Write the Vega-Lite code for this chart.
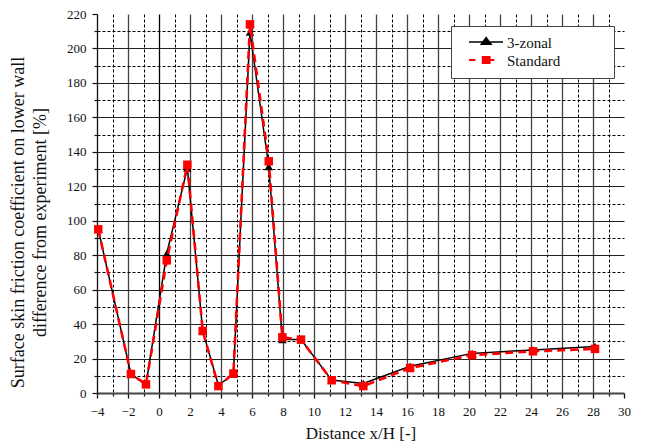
{
  "$schema": "https://vega.github.io/schema/vega-lite/v6.json",
  "width": 527,
  "height": 379,
  "autosize": {"type": "none"},
  "padding": {"left": 97, "top": 14, "right": 27, "bottom": 50},
  "background": "white",
  "config": {
    "view": {"stroke": null},
    "font": "Liberation Serif",
    "axis": {
      "labelFont": "Liberation Serif",
      "labelFontSize": 13,
      "labelColor": "#111",
      "titleFont": "Liberation Serif",
      "titleFontWeight": "normal",
      "titleColor": "#111",
      "tickColor": "#111",
      "labelFlush": false,
      "labelOverlap": false
    }
  },
  "data": {
    "values": [
      {"x": -3.92, "y": 95, "series": "3-zonal"},
      {"x": -1.81, "y": 11, "series": "3-zonal"},
      {"x": -0.84, "y": 5, "series": "3-zonal"},
      {"x": 0.5, "y": 81, "series": "3-zonal"},
      {"x": 1.83, "y": 130.5, "series": "3-zonal"},
      {"x": 2.82, "y": 36, "series": "3-zonal"},
      {"x": 3.83, "y": 4.5, "series": "3-zonal"},
      {"x": 4.8, "y": 11, "series": "3-zonal"},
      {"x": 5.87, "y": 209.5, "series": "3-zonal"},
      {"x": 7.08, "y": 131.5, "series": "3-zonal"},
      {"x": 7.96, "y": 31, "series": "3-zonal"},
      {"x": 9.16, "y": 31, "series": "3-zonal"},
      {"x": 11.14, "y": 7.5, "series": "3-zonal"},
      {"x": 13.18, "y": 5.5, "series": "3-zonal"},
      {"x": 16.2, "y": 15.5, "series": "3-zonal"},
      {"x": 20.2, "y": 23, "series": "3-zonal"},
      {"x": 24.13, "y": 25, "series": "3-zonal"},
      {"x": 28.13, "y": 27, "series": "3-zonal"},
      {"x": -3.92, "y": 95, "series": "Standard"},
      {"x": -1.81, "y": 11, "series": "Standard"},
      {"x": -0.84, "y": 5, "series": "Standard"},
      {"x": 0.5, "y": 77, "series": "Standard"},
      {"x": 1.83, "y": 132.5, "series": "Standard"},
      {"x": 2.82, "y": 36, "series": "Standard"},
      {"x": 3.83, "y": 4, "series": "Standard"},
      {"x": 4.8, "y": 11.3, "series": "Standard"},
      {"x": 5.87, "y": 214, "series": "Standard"},
      {"x": 7.08, "y": 134.5, "series": "Standard"},
      {"x": 7.96, "y": 32.3, "series": "Standard"},
      {"x": 9.16, "y": 31, "series": "Standard"},
      {"x": 11.14, "y": 7.4, "series": "Standard"},
      {"x": 13.18, "y": 4, "series": "Standard"},
      {"x": 16.2, "y": 14.5, "series": "Standard"},
      {"x": 20.2, "y": 22, "series": "Standard"},
      {"x": 24.13, "y": 24.2, "series": "Standard"},
      {"x": 28.13, "y": 25.6, "series": "Standard"}
    ]
  },
  "encoding": {
    "x": {
      "field": "x",
      "type": "quantitative",
      "scale": {"domain": [-4, 30], "nice": false, "zero": false},
      "axis": {
        "title": "Distance x/H [-]",
        "titleFontSize": 17,
        "titleY": 45,
        "titleBaseline": "alphabetic",
        "values": [-4, -3, -2, -1, 0, 1, 2, 3, 4, 5, 6, 7, 8, 9, 10, 11, 12, 13, 14, 15, 16, 17, 18, 19, 20, 21, 22, 23, 24, 25, 26, 27, 28, 29, 30],
        "labelExpr": "datum.value % 2 === 0 ? datum.label : ''",
        "labelFont": "Liberation Serif",
        "labelFontSize": 13,
        "labelBaseline": "alphabetic",
        "labelPadding": 17,
        "tickSize": {"condition": {"test": "datum.value % 2 !== 0", "value": 3}, "value": 5},
        "tickWidth": 1.3,
        "domainColor": "#444",
        "domainWidth": 2,
        "grid": true,
        "gridColor": {"condition": {"test": "datum.value % 2 !== 0 || datum.value === 0", "value": "#000"}, "value": "#444"},
        "gridWidth": {"condition": {"test": "datum.value % 2 !== 0", "value": 1}, "value": 1.3},
        "gridDash": {"condition": {"test": "datum.value % 2 !== 0", "value": [3, 2]}, "value": []},
        "gridOpacity": {"condition": {"test": "datum.value >= 30 || datum.value <= -4", "value": 0}, "value": 1}
      }
    },
    "y": {
      "field": "y",
      "type": "quantitative",
      "scale": {"domain": [0, 220], "nice": false, "zero": false},
      "axis": {
        "title": ["Surface skin friction coefficient on lower wall", "\u00a0\u00a0\u00a0\u00a0\u00a0\u00a0\u00a0\u00a0difference from experiment [%]"],
        "titleFontSize": 18,
        "titleLineHeight": 22,
        "titleAngle": -90,
        "titleX": -79,
        "titleY": 208,
        "titleAlign": "center",
        "titleBaseline": "middle",
        "values": [0, 10, 20, 30, 40, 50, 60, 70, 80, 90, 100, 110, 120, 130, 140, 150, 160, 170, 180, 190, 200, 210, 220],
        "labelExpr": "datum.value % 20 === 0 ? datum.label : ''",
        "labelFont": "Liberation Serif",
        "labelFontSize": 13,
        "labelBaseline": "middle",
        "labelPadding": 6,
        "tickSize": {"condition": {"test": "datum.value % 20 !== 0", "value": 3}, "value": 5},
        "tickWidth": 1.2,
        "domainColor": "#111",
        "domainWidth": 1.3,
        "grid": true,
        "gridColor": {"condition": {"test": "datum.value % 20 !== 0", "value": "#000"}, "value": "#222"},
        "gridWidth": {"condition": {"test": "datum.value % 20 !== 0", "value": 1}, "value": 1.2},
        "gridDash": {"condition": {"test": "datum.value % 20 !== 0", "value": [3, 2]}, "value": []},
        "gridOpacity": {"condition": {"test": "datum.value >= 220 || datum.value <= 0", "value": 0}, "value": 1}
      }
    }
  },
  "layer": [
    {
      "transform": [{"filter": "datum.series === '3-zonal'"}],
      "mark": {"type": "line", "color": "#000000", "strokeWidth": 1.5},
      "encoding": {"order": {"field": "x", "type": "quantitative"}}
    },
    {
      "transform": [{"filter": "datum.series === '3-zonal'"}],
      "mark": {"type": "point", "shape": "triangle-up", "size": 72, "filled": true, "opacity": 1},
      "encoding": {
        "fill": {
          "field": "series",
          "type": "nominal",
          "scale": {"domain": ["3-zonal"], "range": ["#000000"]},
          "legend": {
            "title": null,
            "orient": "none",
            "legendX": 354,
            "legendY": 12,
            "padding": 7,
            "fillColor": "white",
            "strokeColor": "#444",
            "symbolType": "M-0.41,-0.53H1.59M0.6,-0.79L0.89,-0.39L0.31,-0.39ZM7.5,0.95",
            "symbolSize": 1156,
            "symbolStrokeColor": "#000000",
            "symbolStrokeWidth": 1.5,
            "symbolOpacity": 1,
            "labelFont": "Liberation Serif",
            "labelFontSize": 15,
            "labelColor": "#111",
            "labelBaseline": "bottom",
            "labelOffset": 13
          }
        }
      }
    },
    {
      "transform": [{"filter": "datum.series === 'Standard'"}],
      "mark": {"type": "line", "color": "#ff0000", "strokeWidth": 2.6, "strokeDash": [8, 5]},
      "encoding": {"order": {"field": "x", "type": "quantitative"}}
    },
    {
      "transform": [{"filter": "datum.series === 'Standard'"}],
      "mark": {"type": "point", "shape": "square", "size": 72, "filled": true, "opacity": 1},
      "encoding": {
        "color": {
          "field": "series",
          "type": "nominal",
          "scale": {"domain": ["Standard"], "range": ["#ff0000"]},
          "legend": {
            "title": null,
            "orient": "none",
            "legendX": 354,
            "legendY": 30,
            "padding": 7,
            "symbolType": "M-0.41,-0.53H-0.04M0.4,-0.71H0.8V-0.35H0.4ZM0.8,-0.53H1.08",
            "symbolSize": 1156,
            "symbolStrokeColor": "#ff0000",
            "symbolStrokeWidth": 2,
            "symbolOpacity": 1,
            "labelFont": "Liberation Serif",
            "labelFontSize": 15,
            "labelColor": "#111",
            "labelBaseline": "bottom",
            "labelOffset": 13
          }
        }
      }
    }
  ]
}
